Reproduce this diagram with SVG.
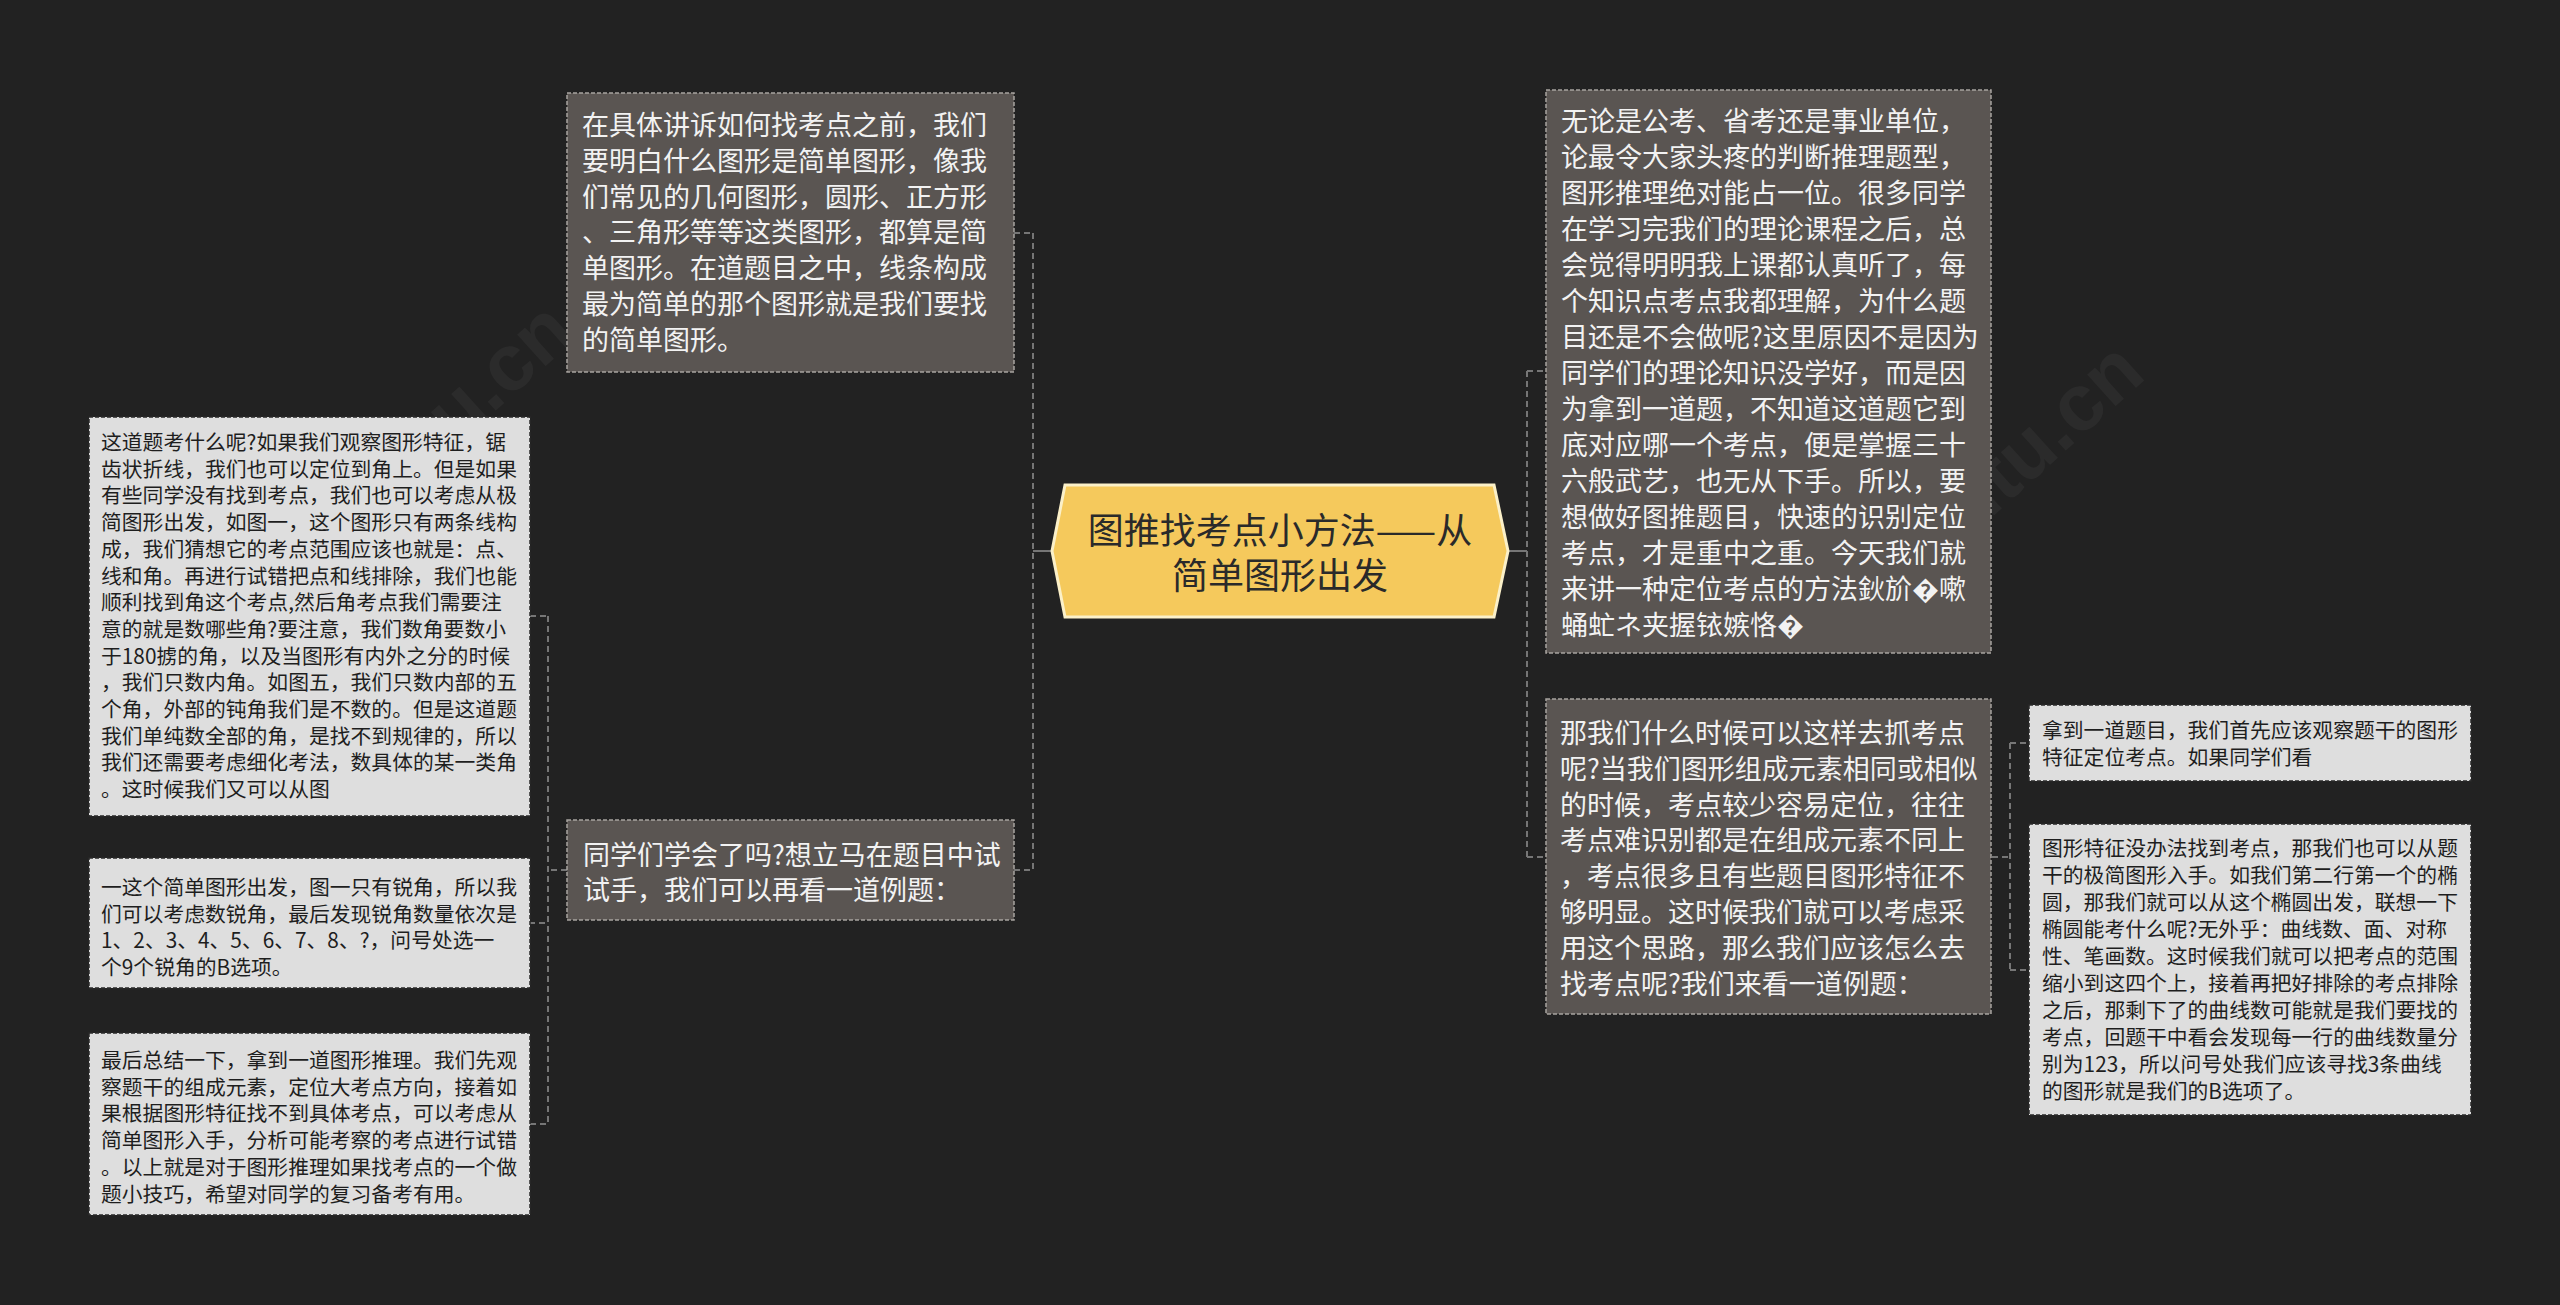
<svg xmlns="http://www.w3.org/2000/svg" width="2560" height="1305" viewBox="0 0 2560 1305">
<style>
.dark rect{fill:#5a5552;stroke:#a8a4a0;stroke-width:1.5;stroke-dasharray:4 2}
.light rect{fill:#dedede;stroke:#2a2a2a;stroke-width:1.5;stroke-dasharray:4 2}
.dark text{font-family:"Noto Sans CJK SC","Noto Sans",sans-serif;font-size:27px;fill:#f2f2f2}
.light text{font-family:"Noto Sans CJK SC","Noto Sans",sans-serif;font-size:20.8px;fill:#1e1e1e}
.center text{font-family:"Noto Sans CJK SC","Noto Sans",sans-serif;font-size:36px;fill:#2a2a2a;text-anchor:middle}
.conn path{fill:none;stroke:#767676;stroke-width:2}
.conn .d{stroke-dasharray:6 4}
.wm{font-family:"Liberation Sans",sans-serif;font-size:80px;fill:#ffffff;opacity:0.04;font-weight:bold}
</style>
<rect width="2560" height="1305" fill="#222222"/>
<text class="wm" transform="translate(330,560) rotate(-42)">shutu.cn</text>
<text class="wm" transform="translate(1900,600) rotate(-42)">shutu.cn</text>
<g id="connectors" class="conn">
<path d="M1052,551 H1033"/>
<path class="d" d="M1033,233 V870"/>
<path class="d" d="M1014,233 H1033 M1014,870 H1033"/>
<path class="d" d="M567,870 H548"/>
<path class="d" d="M548,616 V1124"/>
<path class="d" d="M530,616 H548 M529,923 H548 M530,1124 H548"/>
<path d="M1508,551 H1527"/>
<path class="d" d="M1527,371 V857"/>
<path class="d" d="M1527,371 H1546 M1527,857 H1546"/>
<path class="d" d="M1992,857 H2010"/>
<path class="d" d="M2010,743 V970"/>
<path class="d" d="M2010,743 H2029 M2010,970 H2029"/>
</g>
<g id="center" class="center">
<polygon points="1052,551 1065,485 1494,485 1508,551 1494,617 1065,617" fill="#f5c95c" stroke="#fbf0c8" stroke-width="3"/>
<text x="1280" y="544"><tspan x="1280">图推找考点小方法——从</tspan><tspan x="1280" dy="45">简单图形出发</tspan></text>
</g>
<g id="node-tl" class="dark">
<rect x="567" y="93" width="447" height="279"/>
<text x="582" y="135"><tspan x="582">在具体讲诉如何找考点之前，我们</tspan><tspan x="582" dy="35.8">要明白什么图形是简单图形，像我</tspan><tspan x="582" dy="35.8">们常见的几何图形，圆形、正方形</tspan><tspan x="582" dy="35.8">、三角形等等这类图形，都算是简</tspan><tspan x="582" dy="35.8">单图形。在道题目之中，线条构成</tspan><tspan x="582" dy="35.8">最为简单的那个图形就是我们要找</tspan><tspan x="582" dy="35.8">的简单图形。</tspan></text>
</g>
<g id="node-ml" class="dark">
<rect x="567" y="820" width="447" height="100"/>
<text x="583" y="865"><tspan x="583">同学们学会了吗?想立马在题目中试</tspan><tspan x="583" dy="35">试手，我们可以再看一道例题：</tspan></text>
</g>
<g id="node-rt" class="dark">
<rect x="1546" y="90" width="445" height="563"/>
<text x="1561" y="131"><tspan x="1561">无论是公考、省考还是事业单位，</tspan><tspan x="1561" dy="36">论最令大家头疼的判断推理题型，</tspan><tspan x="1561" dy="36">图形推理绝对能占一位。很多同学</tspan><tspan x="1561" dy="36">在学习完我们的理论课程之后，总</tspan><tspan x="1561" dy="36">会觉得明明我上课都认真听了，每</tspan><tspan x="1561" dy="36">个知识点考点我都理解，为什么题</tspan><tspan x="1561" dy="36">目还是不会做呢?这里原因不是因为</tspan><tspan x="1561" dy="36">同学们的理论知识没学好，而是因</tspan><tspan x="1561" dy="36">为拿到一道题，不知道这道题它到</tspan><tspan x="1561" dy="36">底对应哪一个考点，便是掌握三十</tspan><tspan x="1561" dy="36">六般武艺，也无从下手。所以，要</tspan><tspan x="1561" dy="36">想做好图推题目，快速的识别定位</tspan><tspan x="1561" dy="36">考点，才是重中之重。今天我们就</tspan><tspan x="1561" dy="36">来讲一种定位考点的方法鈥斺�嗽</tspan><tspan x="1561" dy="36">蛹虻ネ夹握铱嫉恪�</tspan></text>
</g>
<g id="node-rm" class="dark">
<rect x="1546" y="699" width="445" height="315"/>
<text x="1560" y="743"><tspan x="1560">那我们什么时候可以这样去抓考点</tspan><tspan x="1560" dy="35.8">呢?当我们图形组成元素相同或相似</tspan><tspan x="1560" dy="35.8">的时候，考点较少容易定位，往往</tspan><tspan x="1560" dy="35.8">考点难识别都是在组成元素不同上</tspan><tspan x="1560" dy="35.8">，考点很多且有些题目图形特征不</tspan><tspan x="1560" dy="35.8">够明显。这时候我们就可以考虑采</tspan><tspan x="1560" dy="35.8">用这个思路，那么我们应该怎么去</tspan><tspan x="1560" dy="35.8">找考点呢?我们来看一道例题：</tspan></text>
</g>
<g id="node-fr1" class="light">
<rect x="2029" y="705" width="442" height="76"/>
<text x="2042" y="738"><tspan x="2042">拿到一道题目，我们首先应该观察题干的图形</tspan><tspan x="2042" dy="27">特征定位考点。如果同学们看</tspan></text>
</g>
<g id="node-fr2" class="light">
<rect x="2029" y="824" width="442" height="291"/>
<text x="2042" y="856"><tspan x="2042">图形特征没办法找到考点，那我们也可以从题</tspan><tspan x="2042" dy="27">干的极简图形入手。如我们第二行第一个的椭</tspan><tspan x="2042" dy="27">圆，那我们就可以从这个椭圆出发，联想一下</tspan><tspan x="2042" dy="27">椭圆能考什么呢?无外乎：曲线数、面、对称</tspan><tspan x="2042" dy="27">性、笔画数。这时候我们就可以把考点的范围</tspan><tspan x="2042" dy="27">缩小到这四个上，接着再把好排除的考点排除</tspan><tspan x="2042" dy="27">之后，那剩下了的曲线数可能就是我们要找的</tspan><tspan x="2042" dy="27">考点，回题干中看会发现每一行的曲线数量分</tspan><tspan x="2042" dy="27">别为123，所以问号处我们应该寻找3条曲线</tspan><tspan x="2042" dy="27">的图形就是我们的B选项了。</tspan></text>
</g>
<g id="node-l1" class="light">
<rect x="89" y="417" width="441" height="399"/>
<text x="101" y="450"><tspan x="101">这道题考什么呢?如果我们观察图形特征，锯</tspan><tspan x="101" dy="26.7">齿状折线，我们也可以定位到角上。但是如果</tspan><tspan x="101" dy="26.7">有些同学没有找到考点，我们也可以考虑从极</tspan><tspan x="101" dy="26.7">简图形出发，如图一，这个图形只有两条线构</tspan><tspan x="101" dy="26.7">成，我们猜想它的考点范围应该也就是：点、</tspan><tspan x="101" dy="26.7">线和角。再进行试错把点和线排除，我们也能</tspan><tspan x="101" dy="26.7">顺利找到角这个考点,然后角考点我们需要注</tspan><tspan x="101" dy="26.7">意的就是数哪些角?要注意，我们数角要数小</tspan><tspan x="101" dy="26.7">于180掳的角，以及当图形有内外之分的时候</tspan><tspan x="101" dy="26.7">，我们只数内角。如图五，我们只数内部的五</tspan><tspan x="101" dy="26.7">个角，外部的钝角我们是不数的。但是这道题</tspan><tspan x="101" dy="26.7">我们单纯数全部的角，是找不到规律的，所以</tspan><tspan x="101" dy="26.7">我们还需要考虑细化考法，数具体的某一类角</tspan><tspan x="101" dy="26.7">。这时候我们又可以从图</tspan></text>
</g>
<g id="node-l2" class="light">
<rect x="89" y="858" width="441" height="130"/>
<text x="101" y="895"><tspan x="101">一这个简单图形出发，图一只有锐角，所以我</tspan><tspan x="101" dy="26.7">们可以考虑数锐角，最后发现锐角数量依次是</tspan><tspan x="101" dy="26.7">1、2、3、4、5、6、7、8、?，问号处选一</tspan><tspan x="101" dy="26.7">个9个锐角的B选项。</tspan></text>
</g>
<g id="node-l3" class="light">
<rect x="89" y="1033" width="441" height="182"/>
<text x="101" y="1068"><tspan x="101">最后总结一下，拿到一道图形推理。我们先观</tspan><tspan x="101" dy="26.7">察题干的组成元素，定位大考点方向，接着如</tspan><tspan x="101" dy="26.7">果根据图形特征找不到具体考点，可以考虑从</tspan><tspan x="101" dy="26.7">简单图形入手，分析可能考察的考点进行试错</tspan><tspan x="101" dy="26.7">。以上就是对于图形推理如果找考点的一个做</tspan><tspan x="101" dy="26.7">题小技巧，希望对同学的复习备考有用。</tspan></text>
</g>
</svg>
